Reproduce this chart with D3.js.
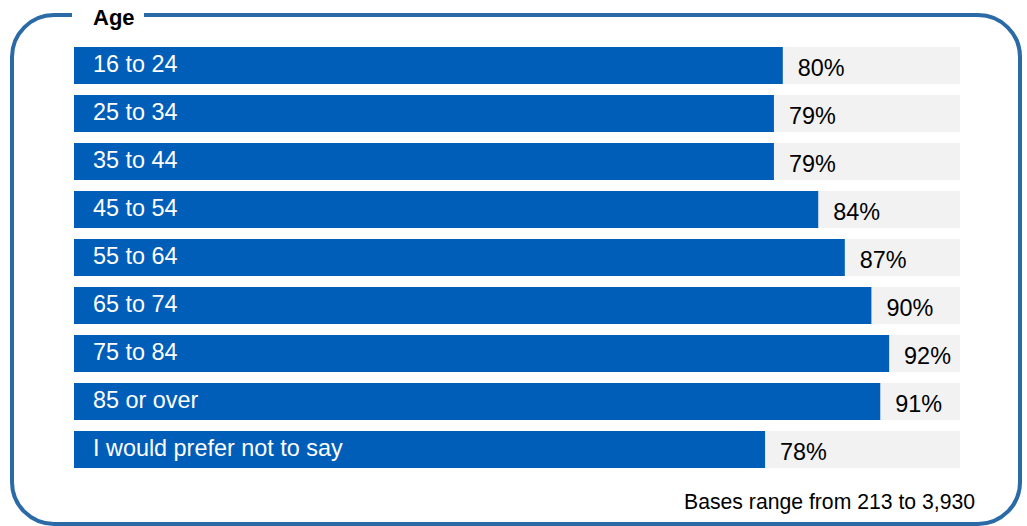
<!DOCTYPE html>
<html>
<head>
<meta charset="utf-8">
<script src="https://cdn.jsdelivr.net/npm/d3@7"></script>
<style>
  html, body { margin: 0; padding: 0; background: #fff; }
  svg { display: block; font-family: "Liberation Sans", Arial, sans-serif; }
</style>
</head>
<body>
<svg id="chart" width="1027" height="526"></svg>
<script>
// Share of respondents by age group
const categories = ["16 to 24", "25 to 34", "35 to 44", "45 to 54", "55 to 64", "65 to 74", "75 to 84", "85 or over", "I would prefer not to say"];
const values = [80, 79, 79, 84, 87, 90, 92, 91, 78];
const title = "Age";
const footnote = "Bases range from 213 to 3,930";

const svg = d3.select("#chart");

// Rounded frame with a gap in the top edge for the title
const fx0 = 12, fy0 = 15, fx1 = 1020, fy1 = 524, r = 42;
const gapL = 72, gapR = 144;
const framePath = d3.path();
framePath.moveTo(gapR, fy0);
framePath.lineTo(fx1 - r, fy0);
framePath.arcTo(fx1, fy0, fx1, fy0 + r, r);
framePath.lineTo(fx1, fy1 - r);
framePath.arcTo(fx1, fy1, fx1 - r, fy1, r);
framePath.lineTo(fx0 + r, fy1);
framePath.arcTo(fx0, fy1, fx0, fy1 - r, r);
framePath.lineTo(fx0, fy0 + r);
framePath.arcTo(fx0, fy0, fx0 + r, fy0, r);
framePath.lineTo(gapL, fy0);
svg.append("path")
  .attr("d", framePath.toString())
  .attr("fill", "none")
  .attr("stroke", "#2a6aa6")
  .attr("stroke-width", 4);

svg.append("text")
  .attr("x", 93).attr("y", 25)
  .attr("font-size", 22).attr("font-weight", "bold")
  .attr("fill", "#000")
  .text(title);

// Scales
const x = d3.scaleLinear().domain([0, 100]).range([74, 960]);
const y = d3.scaleBand().domain(categories).range([47, 468]).paddingInner(0.229).paddingOuter(0);

const rows = svg.append("g").selectAll("g")
  .data(categories.map((c, i) => ({ cat: c, val: values[i] })))
  .join("g");

// Background track
rows.append("rect")
  .attr("x", x(0))
  .attr("y", d => y(d.cat))
  .attr("width", x(100) - x(0))
  .attr("height", y.bandwidth())
  .attr("fill", "#f2f2f2");

// Value bar
rows.append("rect")
  .attr("x", x(0))
  .attr("y", d => y(d.cat))
  .attr("width", d => x(d.val) - x(0))
  .attr("height", y.bandwidth())
  .attr("fill", "#005eb8");

// Category label inside the bar
rows.append("text")
  .attr("x", 93)
  .attr("y", d => y(d.cat) + 25)
  .attr("font-size", 23.4)
  .attr("fill", "#fff")
  .text(d => d.cat);

// Value label after the bar
rows.append("text")
  .attr("x", d => x(d.val) + 15)
  .attr("y", d => y(d.cat) + 29)
  .attr("font-size", 23.4)
  .attr("fill", "#000")
  .text(d => d.val + "%");

svg.append("text")
  .attr("x", 975).attr("y", 509)
  .attr("text-anchor", "end")
  .attr("font-size", 21.2)
  .attr("fill", "#000")
  .text(footnote);
</script>
</body>
</html>
